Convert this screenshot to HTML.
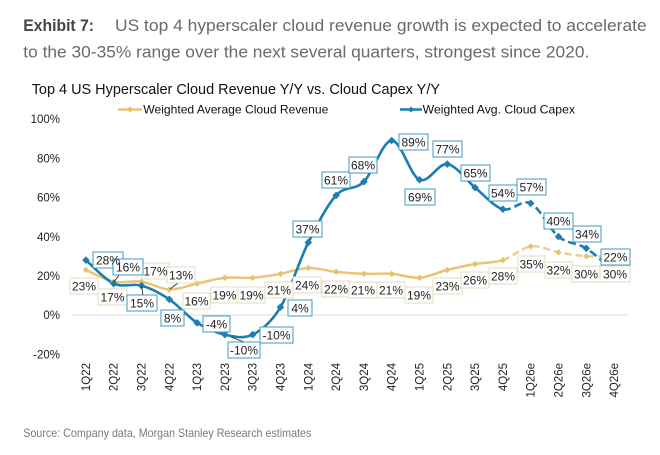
<!DOCTYPE html>
<html><head><meta charset="utf-8"><style>
html,body{margin:0;padding:0;background:#fff;}
svg{display:block;font-family:"Liberation Sans",Arial,sans-serif;}
</style></head><body>
<svg id="c" width="660" height="455" viewBox="0 0 660 455" xmlns="http://www.w3.org/2000/svg">
<rect width="660" height="455" fill="#fff"/>
<text x="23.3" y="31" font-size="17" font-weight="bold" fill="#454545" textLength="70.7" lengthAdjust="spacingAndGlyphs">Exhibit 7:</text>
<text x="115" y="31" font-size="17" fill="#6a6a6a" textLength="531.7" lengthAdjust="spacingAndGlyphs">US top 4 hyperscaler cloud revenue growth is expected to accelerate</text>
<text x="23.3" y="57.3" font-size="17" fill="#6a6a6a" textLength="566" lengthAdjust="spacingAndGlyphs">to the 30-35% range over the next several quarters, strongest since 2020.</text>
<text x="31.7" y="94" font-size="14.5" fill="#111" textLength="408.3" lengthAdjust="spacingAndGlyphs">Top 4 US Hyperscaler Cloud Revenue Y/Y vs. Cloud Capex Y/Y</text>
<!-- legend -->
<line x1="118" y1="109.5" x2="142" y2="109.5" stroke="#e8c573" stroke-width="2.5"/>
<path d="M130 106.5 L133 109.5 L130 112.5 L127 109.5Z" fill="#e3bd62"/>
<text x="143.3" y="113.5" font-size="12" fill="#111" textLength="185" lengthAdjust="spacingAndGlyphs">Weighted Average Cloud Revenue</text>
<line x1="400" y1="109.5" x2="422" y2="109.5" stroke="#1c7db0" stroke-width="2.5"/>
<path d="M411 106.5 L414 109.5 L411 112.5 L408 109.5Z" fill="#1c7db0"/>
<text x="422.7" y="113.5" font-size="12" fill="#111" textLength="152.3" lengthAdjust="spacingAndGlyphs">Weighted Avg. Cloud Capex</text>
<!-- y axis -->
<g font-size="11.5" fill="#222" text-anchor="end">
<text x="60" y="123.2">100%</text>
<text x="60" y="162.4">80%</text>
<text x="60" y="201.6">60%</text>
<text x="60" y="240.8">40%</text>
<text x="60" y="280">20%</text>
<text x="60" y="319.2">0%</text>
<text x="60" y="358.4">-20%</text>
</g>
<line x1="72" y1="315" x2="628" y2="315" stroke="#dedede" stroke-width="1"/>
<!-- x labels -->
<g font-size="11.5" fill="#222" text-anchor="end">
<text transform="translate(89.9,363) rotate(-90)">1Q22</text>
<text transform="translate(117.7,363) rotate(-90)">2Q22</text>
<text transform="translate(145.5,363) rotate(-90)">3Q22</text>
<text transform="translate(173.3,363) rotate(-90)">4Q22</text>
<text transform="translate(201.1,363) rotate(-90)">1Q23</text>
<text transform="translate(228.9,363) rotate(-90)">2Q23</text>
<text transform="translate(256.7,363) rotate(-90)">3Q23</text>
<text transform="translate(284.5,363) rotate(-90)">4Q23</text>
<text transform="translate(312.3,363) rotate(-90)">1Q24</text>
<text transform="translate(340.1,363) rotate(-90)">2Q24</text>
<text transform="translate(367.9,363) rotate(-90)">3Q24</text>
<text transform="translate(395.7,363) rotate(-90)">4Q24</text>
<text transform="translate(423.5,363) rotate(-90)">1Q25</text>
<text transform="translate(451.3,363) rotate(-90)">2Q25</text>
<text transform="translate(479.1,363) rotate(-90)">3Q25</text>
<text transform="translate(506.9,363) rotate(-90)">4Q25</text>
<text transform="translate(534.7,363) rotate(-90)">1Q26e</text>
<text transform="translate(562.5,363) rotate(-90)">2Q26e</text>
<text transform="translate(590.3,363) rotate(-90)">3Q26e</text>
<text transform="translate(618.1,363) rotate(-90)">4Q26e</text>
</g>
<!-- series -->
<path id="revS" fill="none" stroke="#e8c573" stroke-width="2.5" d="M85.9 269.9 L113.7 281.7 L141.5 281.7 L169.3 289.5 L197.1 283.6 L224.9 277.8 L252.7 277.8 L280.5 273.8 L308.3 268 L336.1 271.9 L363.9 273.8 L391.7 273.8 L419.5 277.8 L447.3 269.9 L475.1 264 L502.9 260.1"/>
<path id="revD" fill="none" stroke="#ecce8e" stroke-width="2.5" stroke-dasharray="7 4" d="M502.9 260.1 L530.7 246.4 L558.5 252.3 L586.3 256.2 L614.1 256.2"/>
<path id="capS" fill="none" stroke="#1c7db0" stroke-width="2.6" d="M85.9 260.1 L113.7 283.6 L141.5 285.6 L169.3 299.3 L197.1 322.8 L224.9 334.6 L252.7 334.6 L280.5 307.2 L308.3 242.5 L336.1 195.4 L363.9 181.7 L391.7 140.6 L419.5 179.8 L447.3 164.1 L475.1 187.6 L502.9 209.2"/>
<path id="capD" fill="none" stroke="#1c7db0" stroke-width="2.6" stroke-dasharray="8 4" d="M502.9 209.2 L530.7 203.3 L558.5 236.6 L586.3 248.4 L614.1 271.9"/>
<g id="revM" fill="#e6c26c"></g>
<g id="capM" fill="#1c7db0"></g>
<!-- leader lines -->
<g stroke="#222" stroke-width="0.8">
<line x1="114" y1="282" x2="119" y2="275"/>
<line x1="141.5" y1="286" x2="143" y2="295"/>
<line x1="170" y1="289" x2="178" y2="283"/>
<line x1="231" y1="337" x2="244" y2="342"/>
</g>
<!-- revenue labels -->
<g fill="#fff" stroke="#e6dcbc" stroke-width="1">
<rect x="70" y="278" width="28" height="16"/>
<rect x="98" y="289" width="29" height="16"/>
<rect x="142" y="263" width="27" height="16"/>
<rect x="167" y="267" width="28" height="16"/>
<rect x="183" y="293" width="27" height="16"/>
<rect x="211" y="287" width="27" height="16"/>
<rect x="238" y="287" width="27" height="16"/>
<rect x="265" y="282" width="28" height="16"/>
<rect x="293" y="277" width="28" height="16"/>
<rect x="322" y="281" width="28" height="16"/>
<rect x="349" y="282" width="28" height="16"/>
<rect x="377" y="282" width="28" height="16"/>
<rect x="405" y="287" width="28" height="16"/>
<rect x="433" y="278" width="29" height="16"/>
<rect x="461" y="272" width="28" height="16"/>
<rect x="489" y="268" width="28" height="16"/>
<rect x="518" y="256" width="27" height="16"/>
<rect x="545" y="262" width="27" height="16"/>
<rect x="572" y="266" width="28" height="16"/>
<rect x="600" y="266" width="30" height="16"/>
</g>
<g font-size="12" fill="#222" text-anchor="middle">
<text x="84" y="290.3">23%</text>
<text x="112.5" y="301.3">17%</text>
<text x="155.5" y="275.3">17%</text>
<text x="181" y="279.3">13%</text>
<text x="196.5" y="305.3">16%</text>
<text x="224.5" y="299.3">19%</text>
<text x="251.5" y="299.3">19%</text>
<text x="279" y="294.3">21%</text>
<text x="307" y="289.3">24%</text>
<text x="336" y="293.3">22%</text>
<text x="363" y="294.3">21%</text>
<text x="391" y="294.3">21%</text>
<text x="419" y="299.3">19%</text>
<text x="447.5" y="290.3">23%</text>
<text x="475" y="284.3">26%</text>
<text x="503" y="280.3">28%</text>
<text x="531.5" y="268.3">35%</text>
<text x="558.5" y="274.3">32%</text>
<text x="586" y="278.3">30%</text>
<text x="615" y="278.3">30%</text>
</g>
<!-- capex labels -->
<g fill="#fff" stroke="#3f9ac5" stroke-width="1">
<rect x="93" y="252" width="30" height="16"/>
<rect x="113" y="259" width="30" height="16"/>
<rect x="127" y="295" width="30" height="16"/>
<rect x="161" y="310" width="23" height="16"/>
<rect x="203" y="316" width="27" height="16"/>
<rect x="228" y="342" width="32" height="16"/>
<rect x="260" y="327" width="33" height="16"/>
<rect x="288" y="300" width="24" height="16"/>
<rect x="293" y="221" width="29" height="16"/>
<rect x="322" y="172" width="28" height="16"/>
<rect x="349" y="157" width="28" height="16"/>
<rect x="399" y="134" width="29" height="16"/>
<rect x="405" y="189" width="30" height="16"/>
<rect x="433" y="141" width="29" height="16"/>
<rect x="461" y="165" width="29" height="16"/>
<rect x="489" y="185" width="28" height="16"/>
<rect x="517" y="179" width="29" height="16"/>
<rect x="544" y="213" width="29" height="16"/>
<rect x="573" y="226" width="28" height="16"/>
<rect x="601" y="249" width="29" height="16"/>
</g>
<g font-size="12" fill="#222" text-anchor="middle">
<text x="108" y="264.3">28%</text>
<text x="128" y="271.3">16%</text>
<text x="142" y="307.3">15%</text>
<text x="172.5" y="322.3">8%</text>
<text x="216.5" y="328.3">-4%</text>
<text x="244" y="354.3">-10%</text>
<text x="276.5" y="339.3">-10%</text>
<text x="300" y="312.3">4%</text>
<text x="307.5" y="233.3">37%</text>
<text x="336" y="184.3">61%</text>
<text x="363" y="169.3">68%</text>
<text x="413.5" y="146.3">89%</text>
<text x="420" y="201.3">69%</text>
<text x="447.5" y="153.3">77%</text>
<text x="475.5" y="177.3">65%</text>
<text x="503" y="197.3">54%</text>
<text x="531.5" y="191.3">57%</text>
<text x="558.5" y="225.3">40%</text>
<text x="587" y="238.3">34%</text>
<text x="615.5" y="261.3">22%</text>
</g>
<text x="23.3" y="437" font-size="12" fill="#7a7a7a" textLength="288" lengthAdjust="spacingAndGlyphs">Source: Company data, Morgan Stanley Research estimates</text>
</svg>
<script>
(function(){
var X=function(i){return 85.9+27.8*i;},Y=function(v){return 315-1.96*v;};
var cap=[28,16,15,8,-4,-10,-10,4,37,61,68,89,69,77,65,54,57,40,34,22];
var rev=[23,17,17,13,16,19,19,21,24,22,21,21,19,23,26,28,35,32,30,30];
function pts(a){return a.map(function(v,i){return [X(i),Y(v)];});}
function seg(p,a,b){
 var d="M"+p[a][0].toFixed(1)+" "+p[a][1].toFixed(1);
 for(var i=a;i<b;i++){
  var p0=p[i-1]||p[i],p1=p[i],p2=p[i+1],p3=p[i+2]||p2;
  var c1=[p1[0]+(p2[0]-p0[0])/6,p1[1]+(p2[1]-p0[1])/6];
  var c2=[p2[0]-(p3[0]-p1[0])/6,p2[1]-(p3[1]-p1[1])/6];
  d+=" C"+c1[0].toFixed(1)+" "+c1[1].toFixed(1)+" "+c2[0].toFixed(1)+" "+c2[1].toFixed(1)+" "+p2[0].toFixed(1)+" "+p2[1].toFixed(1);
 }
 return d;
}
var pc=pts(cap),pr=pts(rev);
document.getElementById("capS").setAttribute("d",seg(pc,0,15));
document.getElementById("capD").setAttribute("d",seg(pc,15,19));
document.getElementById("revS").setAttribute("d",seg(pr,0,15));
document.getElementById("revD").setAttribute("d",seg(pr,15,19));
var NS="http://www.w3.org/2000/svg";
function marks(p,g,r){
 var el=document.getElementById(g);
 p.forEach(function(q){
  var m=document.createElementNS(NS,"path");
  m.setAttribute("d","M"+q[0]+" "+(q[1]-r)+" L"+(q[0]+r)+" "+q[1]+" L"+q[0]+" "+(q[1]+r)+" L"+(q[0]-r)+" "+q[1]+"Z");
  el.appendChild(m);
 });
}
marks(pr,"revM",3.2);
marks(pc,"capM",3.8);
})();
</script>
</body></html>
